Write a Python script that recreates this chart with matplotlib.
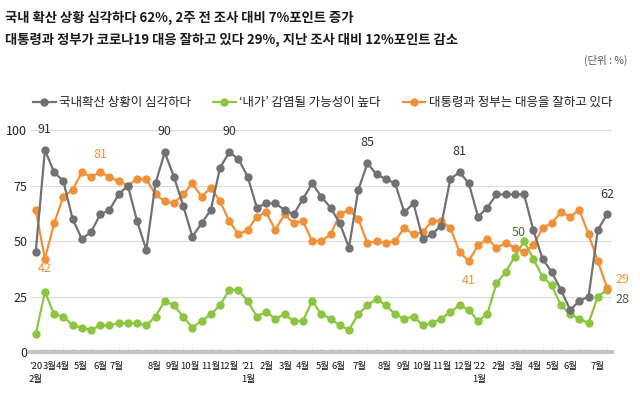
import numpy as np
import matplotlib.pyplot as plt

plt.rcParams['font.family'] = ['Noto Sans CJK KR', 'DejaVu Sans']

# ---- data ----
serious = [45, 91, 81, 77, 60, 51, 54, 62, 64, 71, 75, 59, 46, 76, 90, 79, 66, 52, 58, 64,
           83, 90, 87, 79, 65, 67, 67, 64, 62, 69, 76, 70, 65, 58, 47, 73, 85, 80, 78, 76,
           63, 67, 51, 53, 57, 78, 81, 76, 61, 65, 71, 71, 71, 71, 55, 42, 36, 28, 19, 23,
           25, 55, 62]
infect = [8, 27, 17, 16, 12, 11, 10, 12, 12, 13, 13, 13, 12, 16, 23, 21, 16, 11, 14, 17,
          21, 28, 28, 23, 16, 18, 15, 17, 14, 14, 23, 17, 15, 12, 10, 17, 21, 24, 21, 17,
          15, 16, 12, 13, 15, 18, 21, 19, 14, 17, 31, 36, 43, 50, 42, 34, 30, 21, 17, 15,
          13, 25, 28]
govt = [64, 42, 58, 70, 73, 81, 79, 81, 79, 77, 75, 78, 78, 71, 68, 67, 71, 76, 70, 74,
        68, 59, 53, 55, 61, 63, 55, 62, 58, 59, 50, 50, 53, 62, 64, 60, 49, 50, 49, 50,
        56, 53, 54, 59, 59, 56, 45, 41, 48, 51, 47, 49, 47, 45, 48, 56, 58, 63, 61, 64,
        53, 41, 29]

month_pos = [0, 1.55, 2.96, 4.9, 7.0, 8.8, 12.9, 14.9, 16.75, 18.95, 21, 23, 25.1, 27.1,
             29, 31.1, 32.8, 35.1, 37.9, 39.9, 41.9, 44.1, 46.3, 48.1, 50.2, 52.2, 54.2,
             56.1, 58, 61]
month_labels = ['\u201920\n2월', '3월', '4월', '5월', '6월', '7월', '8월', '9월', '10월', '11월',
                '12월', '\u201921\n1월', '2월', '3월', '4월', '5월', '6월', '7월', '8월', '9월',
                '10월', '11월', '12월', '\u201922\n1월', '2월', '3월', '4월', '5월', '6월', '7월']

c_gray = '#6f7175'
c_green = '#8cc540'
c_orange = '#f0913a'

x = np.arange(len(serious))

fig = plt.figure(figsize=(6.4, 4.08), dpi=100)
ax = fig.add_axes([30 / 640, 1 - 360 / 408, 582 / 640, 235 / 408])

# spine position first: it resets the ticks
for s in ['top', 'right', 'left']:
    ax.spines[s].set_visible(False)
ax.spines['bottom'].set_position(('data', 0))
ax.spines['bottom'].set_color('#c4c4c4')
ax.spines['bottom'].set_linewidth(3)

for yv in [25, 50, 75, 100]:
    ax.axhline(yv, color='#dcdcdc', lw=0.9, zorder=0)

l1, = ax.plot(x, serious, color=c_gray, lw=1.6, marker='o', ms=5, zorder=3)
l2, = ax.plot(x, infect, color=c_green, lw=1.6, marker='o', ms=5, zorder=2)
l3, = ax.plot(x, govt, color=c_orange, lw=1.6, marker='o', ms=5, zorder=2)

ax.set_xlim(-0.62, 62.54)
ax.set_ylim(-3.6, 102.3)
ax.set_yticks([0, 25, 50, 75, 100])
ax.set_xticks(month_pos)
ax.set_xticklabels(month_labels, linespacing=1.6)
ax.set_xticks(x, minor=True)
ax.tick_params(axis='x', which='major', length=0, pad=7, labelsize=6.8, labelcolor='#111111')
ax.tick_params(axis='x', which='minor', length=2, width=0.8, color='#9a9a9a', direction='in')
ax.tick_params(axis='y', length=0, labelsize=9, labelcolor='#222222', pad=2)

# value labels
def lab(i, vals, text, dx, dy, color):
    ax.annotate(text, (i, vals[i]), xytext=(dx, dy), textcoords='offset points',
                ha='center', va='center', fontsize=9, color=color)

lab(1, serious, '91', 0, 15, '#333333')
lab(14, serious, '90', 0, 15, '#333333')
lab(21, serious, '90', 0, 15, '#333333')
lab(36, serious, '85', 0, 15, '#333333')
lab(46, serious, '81', 0, 15, '#333333')
lab(62, serious, '62', 0, 14, '#333333')
lab(7, govt, '81', 0, 13, c_orange)
lab(1, govt, '42', 0, -7, c_orange)
lab(47, govt, '41', 0, -14, c_orange)
lab(62, govt, '29', 11, 6, c_orange)
lab(53, infect, '50', -4, 6, '#5b6b3c')
lab(62, infect, '28', 11, -7, '#4f5a45')

ax.legend([l1, l2, l3], ['국내확산 상황이 심각하다', '\u2018내가\u2019 감염될 가능성이 높다',
                         '대통령과 정부는 대응을 잘하고 있다'],
          loc='upper left', bbox_to_anchor=(28 / 640, 1 - 91 / 408), bbox_transform=fig.transFigure,
          ncol=3, frameon=False, fontsize=9, handlelength=1.8, handletextpad=0.3,
          columnspacing=1.75, numpoints=1, borderaxespad=0, labelcolor='#222222')

fig.text(5 / 640, 1 - 18 / 408, '국내 확산 상황 심각하다 62%, 2주 전 조사 대비 7%포인트 증가',
         fontsize=9.6, fontweight='bold', va='center', color='#1a1a1a')
fig.text(5 / 640, 1 - 40 / 408, '대통령과 정부가 코로나19 대응 잘하고 있다 29%, 지난 조사 대비 12%포인트 감소',
         fontsize=9.6, fontweight='bold', va='center', color='#1a1a1a')
fig.text(627 / 640, 1 - 60 / 408, '(단위 : %)', fontsize=7.5, ha='right', va='center', color='#555555')

fig.savefig('out.png', dpi=100)
